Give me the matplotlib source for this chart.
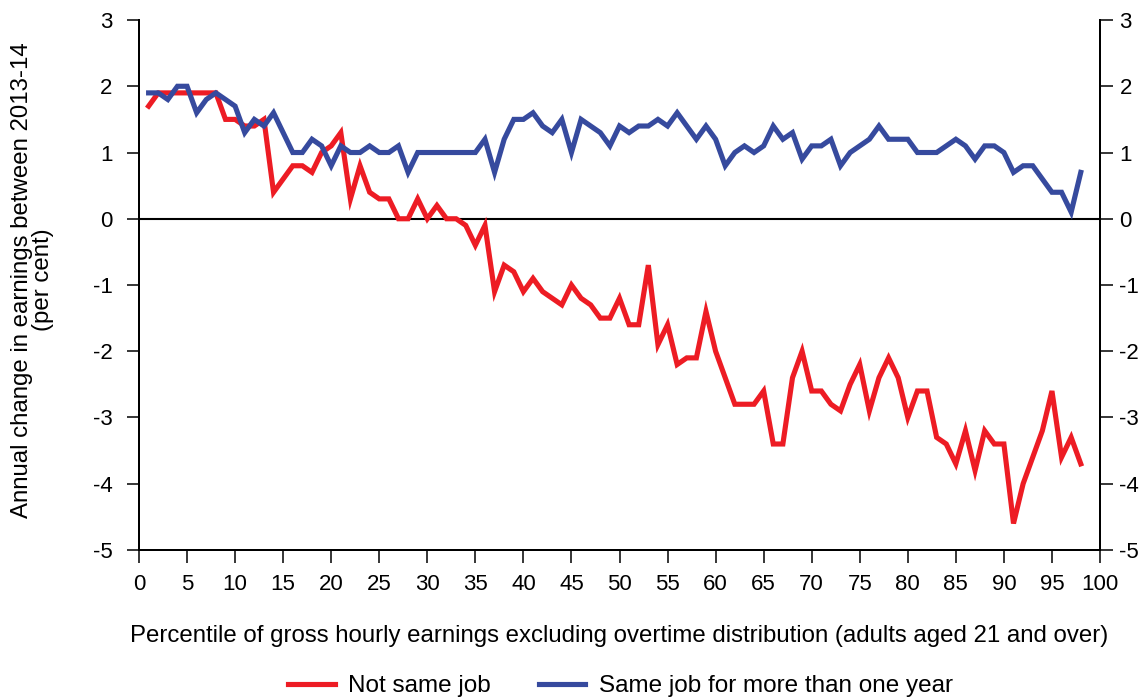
import matplotlib
matplotlib.use('Agg')
import matplotlib.pyplot as plt
from matplotlib.ticker import FuncFormatter

plt.rcParams['font.family'] = ['Liberation Sans', 'DejaVu Sans']
plt.rcParams['axes.unicode_minus'] = False

# percentile 1..98
percentiles = list(range(1, 99))

not_same_job = [
    1.7, 1.9, 1.9, 1.9, 1.9, 1.9, 1.9, 1.9, 1.5, 1.5,
    1.4, 1.4, 1.5, 0.4, 0.6, 0.8, 0.8, 0.7, 1.0, 1.1,
    1.3, 0.3, 0.8, 0.4, 0.3, 0.3, 0.0, 0.0, 0.3, 0.0,
    0.2, 0.0, 0.0, -0.1, -0.4, -0.1, -1.1, -0.7, -0.8, -1.1,
    -0.9, -1.1, -1.2, -1.3, -1.0, -1.2, -1.3, -1.5, -1.5, -1.2,
    -1.6, -1.6, -0.7, -1.9, -1.6, -2.2, -2.1, -2.1, -1.4, -2.0,
    -2.4, -2.8, -2.8, -2.8, -2.6, -3.4, -3.4, -2.4, -2.0, -2.6,
    -2.6, -2.8, -2.9, -2.5, -2.2, -2.9, -2.4, -2.1, -2.4, -3.0,
    -2.6, -2.6, -3.3, -3.4, -3.7, -3.2, -3.8, -3.2, -3.4, -3.4,
    -4.6, -4.0, -3.6, -3.2, -2.6, -3.6, -3.3, -3.7,
]

same_job = [
    1.9, 1.9, 1.8, 2.0, 2.0, 1.6, 1.8, 1.9, 1.8, 1.7,
    1.3, 1.5, 1.4, 1.6, 1.3, 1.0, 1.0, 1.2, 1.1, 0.8,
    1.1, 1.0, 1.0, 1.1, 1.0, 1.0, 1.1, 0.7, 1.0, 1.0,
    1.0, 1.0, 1.0, 1.0, 1.0, 1.2, 0.7, 1.2, 1.5, 1.5,
    1.6, 1.4, 1.3, 1.5, 1.0, 1.5, 1.4, 1.3, 1.1, 1.4,
    1.3, 1.4, 1.4, 1.5, 1.4, 1.6, 1.4, 1.2, 1.4, 1.2,
    0.8, 1.0, 1.1, 1.0, 1.1, 1.4, 1.2, 1.3, 0.9, 1.1,
    1.1, 1.2, 0.8, 1.0, 1.1, 1.2, 1.4, 1.2, 1.2, 1.2,
    1.0, 1.0, 1.0, 1.1, 1.2, 1.1, 0.9, 1.1, 1.1, 1.0,
    0.7, 0.8, 0.8, 0.6, 0.4, 0.4, 0.1, 0.7,
]

x_ticks = list(range(0, 101, 5))
y_ticks = list(range(-5, 4))

RED = '#ED1C24'
BLUE = '#364A9E'

fig = plt.figure(figsize=(11.45, 7), dpi=100)
ax = fig.add_axes([0.1214, 0.2143, 0.8393, 0.7571])

ax.axhline(0, color='black', linewidth=1.5, zorder=1)
ax.plot(percentiles, not_same_job, color=RED, linewidth=3.7,
        label='Not same job', zorder=2, solid_joinstyle='miter')
ax.plot(percentiles, same_job, color=BLUE, linewidth=3.7,
        label='Same job for more than one year', zorder=3, solid_joinstyle='miter')

ax.set_xlim(0, 100)
ax.set_ylim(-5, 3)
ax.set_xticks(x_ticks)
ax.set_yticks(y_ticks)
fmt = FuncFormatter(lambda v, p: f'{int(round(v))}')
ax.yaxis.set_major_formatter(fmt)

ax.spines['top'].set_visible(False)
for side in ['left', 'bottom', 'right']:
    ax.spines[side].set_linewidth(1.4)

ax.tick_params(axis='both', direction='out', length=9, width=1.1,
               labelsize=16, colors='black')
ax.tick_params(axis='x', pad=8)
ax.tick_params(axis='y', pad=10)

ax2 = ax.twinx()
ax2.set_ylim(-5, 3)
ax2.set_yticks(y_ticks)
ax2.yaxis.set_major_formatter(fmt)
ax2.spines['top'].set_visible(False)
for side in ['left', 'bottom', 'right']:
    ax2.spines[side].set_linewidth(1.4)
ax2.tick_params(axis='y', direction='out', length=9, width=1.1,
                labelsize=16, pad=5)

ax.set_xlabel('Percentile of gross hourly earnings excluding overtime distribution '
              '(adults aged 21 and over)', fontsize=17.3, labelpad=22)
ax.set_ylabel('Annual change in earnings between 2013-14\n(per cent)',
              fontsize=17.3, linespacing=0.95)
ax.yaxis.set_label_coords(-0.088, 0.51)

ax.legend(loc='lower center', bbox_to_anchor=(0.542, -0.027),
          bbox_transform=fig.transFigure, ncol=2, frameon=False,
          fontsize=17.5, handlelength=1.9, columnspacing=2.0,
          handletextpad=0.55)

fig.savefig('out.png', dpi=100)
